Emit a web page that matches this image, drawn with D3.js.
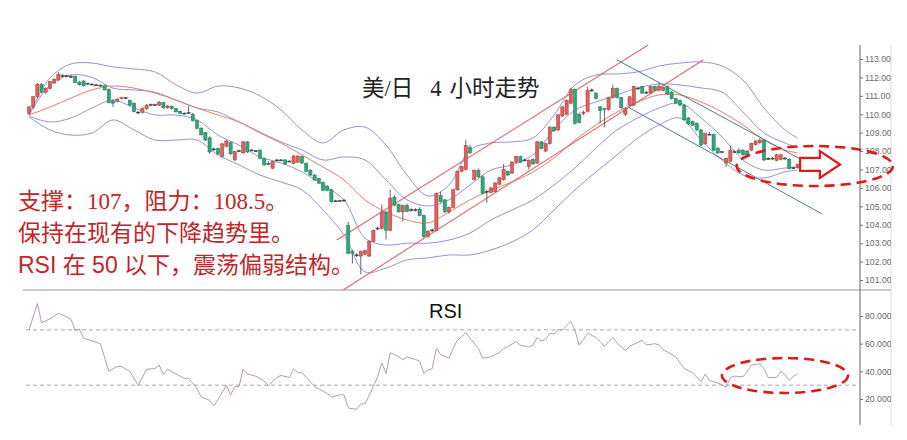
<!DOCTYPE html>
<html><head><meta charset="utf-8">
<script src="https://cdn.jsdelivr.net/npm/d3@7/dist/d3.min.js"></script>
<style>
html,body{margin:0;padding:0;background:#fff;}
svg{display:block;}
</style></head><body>
<svg id="chart" width="907" height="440"></svg>
<script>
// ---- Candles (USD/JPY 4H) ----
const opens = [
110.05,110.4,110.95,111.63,111.2,111.4,111.7,111.86,112.1,112.08,
112.05,112.05,111.75,111.8,111.66,111.64,111.6,111.58,111.55,111.35,
110.72,110.7,110.85,110.9,110.75,110.6,110.12,110.1,110.3,110.52,
110.52,110.5,110.63,110.35,110.42,110.3,110.15,110.05,110.08,110.0,
109.65,109.24,109.0,108.72,108.1,108.15,107.72,108.25,108.46,107.52,
108.0,107.9,108.5,108.06,108.0,108.05,107.6,107.34,107.07,107.5,
107.52,107.52,107.44,107.34,107.4,107.7,107.34,106.97,106.7,106.5,
106.3,106.1,105.9,105.3,105.3,105.33,103.95,102.55,102.35,102.3,
102.4,102.3,103.1,103.8,103.8,104.67,103.7,105.5,105.1,104.7,
105.05,104.8,104.82,104.85,104.5,103.35,103.7,103.7,105.6,105.35,
104.7,104.95,105.9,106.9,107.0,108.2,106.45,106.95,106.6,105.8,
105.75,105.8,106.2,106.45,106.9,106.8,107.4,107.7,107.52,107.15,
107.55,107.35,108.5,108.0,108.4,109.3,109.15,109.9,110.0,110.6,
111.35,110.0,110.05,110.15,111.28,111.15,110.4,110.3,110.25,110.9,
111.4,110.9,110.0,110.5,110.5,111.42,111.5,111.2,111.15,111.5,
111.3,111.3,111.5,111.2,110.85,110.75,110.5,109.8,109.6,109.5,
109.15,108.4,108.9,108.9,108.15,107.95,107.35,107.45,107.97,108.05,
108.05,108.0,108.05,108.35,108.45,108.6,107.6,107.6,107.5,107.55,
107.6,107.55,107.1,107.1];
const highs = [
110.45,111.0,111.7,111.7,111.45,111.8,111.95,112.3,112.2,112.15,
112.15,112.1,111.8,111.85,111.72,111.68,111.64,111.62,111.6,111.4,
110.8,110.88,110.95,110.95,110.8,110.65,110.16,110.36,110.55,110.58,
110.58,110.72,110.68,110.5,110.48,110.35,110.2,110.1,110.45,110.08,
109.7,109.3,109.05,108.8,108.2,108.2,108.45,108.6,108.52,108.0,
108.08,108.55,108.55,108.12,108.06,108.1,107.65,107.45,107.46,107.56,
107.58,107.56,107.5,107.78,107.78,107.75,107.38,107.0,106.75,106.55,
106.35,106.15,105.95,105.36,105.36,105.4,104.15,102.65,102.45,102.6,
102.65,103.15,103.75,103.9,105.1,104.75,105.9,105.6,105.15,105.1,
105.15,104.9,104.9,104.95,104.55,103.7,103.8,105.75,105.8,105.4,
105.0,105.95,106.95,107.2,108.6,108.35,107.0,107.05,106.7,105.9,
106.05,106.3,106.6,107.3,106.95,107.45,107.75,107.75,107.6,107.55,
107.6,108.55,108.55,108.45,109.35,109.35,110.0,110.45,110.8,111.45,
111.4,110.1,110.2,111.5,111.4,111.2,110.45,110.35,110.95,111.6,
111.45,110.95,110.35,111.0,111.55,111.5,111.55,111.28,111.55,111.55,
111.7,111.5,111.55,111.25,110.9,110.8,110.55,109.85,109.65,109.55,
109.2,109.0,109.05,108.95,108.2,108.0,107.65,108.3,108.05,108.15,
108.1,108.05,108.45,108.6,108.7,108.65,107.68,107.68,107.85,107.85,
107.68,107.6,107.15,107.32];
const lows = [
109.95,110.3,110.85,111.15,111.1,111.35,111.65,111.8,112.0,112.0,
111.98,111.7,111.55,111.5,111.62,111.58,111.55,111.52,111.3,110.6,
110.4,110.65,110.8,110.82,110.45,110.1,110.02,110.05,110.25,110.46,
110.46,110.45,110.3,110.3,110.25,110.1,110.0,110.0,110.02,109.6,
109.2,108.85,108.55,107.85,108.0,107.8,107.65,108.2,107.8,107.45,
107.95,107.85,107.9,108.0,107.95,107.55,107.2,107.25,107.02,107.46,
107.47,107.25,107.4,107.3,107.35,107.3,106.85,106.65,106.4,106.22,
105.82,105.82,105.2,105.24,105.24,105.26,102.4,101.9,102.25,101.3,
102.35,102.25,103.05,103.7,103.75,103.2,103.65,105.0,104.65,104.17,
104.68,104.7,104.72,104.45,103.3,103.3,103.6,103.65,105.2,104.65,
104.6,104.9,105.85,106.85,106.95,107.85,106.4,106.55,105.65,105.2,
105.7,105.75,106.15,106.4,106.65,106.75,107.35,107.35,107.45,107.0,
107.25,107.3,108.1,107.95,108.35,109.05,109.1,109.85,109.95,110.55,
109.45,109.5,109.95,110.1,111.2,110.8,109.5,109.3,110.2,110.85,
110.85,110.3,109.9,110.45,110.45,111.35,111.1,111.12,111.1,111.25,
111.25,111.25,111.05,110.8,110.55,110.45,109.65,109.42,109.35,109.1,
108.28,108.35,108.85,108.0,107.85,107.9,107.15,107.4,107.9,107.85,
107.75,107.75,108.0,108.3,108.4,107.45,107.52,107.52,107.45,107.5,
107.55,107.0,107.02,107.05];
const closes = [
110.4,110.95,111.63,111.2,111.4,111.77,111.9,112.17,112.08,112.1,
112.02,111.73,111.6,111.55,111.68,111.63,111.6,111.57,111.32,110.62,
110.6,110.82,110.9,110.88,110.5,110.14,110.1,110.33,110.5,110.54,
110.5,110.64,110.35,110.45,110.3,110.13,110.05,110.06,110.1,109.65,
109.24,108.88,108.6,107.95,108.12,107.84,108.39,108.55,107.85,107.97,
108.02,108.5,107.95,108.06,108.02,107.6,107.25,107.34,107.43,107.52,
107.5,107.3,107.46,107.73,107.73,107.35,106.9,106.7,106.43,106.26,
105.87,105.87,105.25,105.3,105.32,105.34,102.45,102.45,102.37,102.55,
102.6,103.1,103.7,103.82,104.7,103.7,105.45,105.07,104.7,105.05,
104.72,104.82,104.8,104.5,103.35,103.65,103.72,105.7,105.25,104.7,
104.95,105.9,106.9,107.15,108.3,107.9,106.95,106.6,105.7,105.82,
106.0,106.27,106.55,107.0,106.7,107.4,107.7,107.4,107.52,107.5,
107.3,108.5,108.15,108.4,109.3,109.1,109.97,110.4,110.75,111.35,
109.5,109.55,110.1,111.3,111.32,110.85,110.2,110.25,110.9,111.4,
110.9,110.35,110.3,110.95,111.5,111.4,111.15,111.2,111.5,111.3,
111.5,111.45,111.1,110.85,110.6,110.5,109.7,109.47,109.4,109.15,
108.33,108.95,108.92,108.05,107.9,107.97,107.6,108.05,107.97,107.9,
107.8,107.8,108.42,108.55,108.6,107.52,107.6,107.62,107.8,107.8,
107.62,107.05,107.1,107.28];

// ---- Bollinger bands read at sample candles ----
const bandIdx = [0,5,10,15,20,25,30,35,40,45,50,55,60,65,70,75,80,85,90,95,100,105,110,115,120,125,130,135,140,145,150,155,160,165,170,175,180,183];
const bandUpperOuter = [109.96,111.97,112.73,112.78,112.57,112.46,112.3,111.6,111.15,111.53,111.43,111.0,110.23,109.15,108.44,109.15,109.3,108.33,106.7,105.56,106.16,108.06,108.44,108.5,108.71,109.96,111.59,112.13,112.19,112.3,112.62,112.78,112.84,112.62,111.86,110.34,109.15,108.71];
const bandUpperInner = [109.96,111.59,112.13,112.0,111.42,111.32,111.2,110.77,110.34,110.12,109.58,109.04,108.49,108.06,107.52,107.68,107.52,106.43,105.35,105.02,105.35,106.16,106.97,107.25,107.79,109.15,110.23,110.67,111.05,111.43,111.64,111.59,111.43,111.2,110.12,108.98,108.44,108.17];
const bandMiddle = [109.96,110.39,110.88,111.32,111.53,111.42,111.15,110.77,110.34,109.96,109.58,108.98,108.44,107.79,107.14,106.43,105.35,104.69,104.26,104.1,104.69,105.35,105.89,106.32,106.87,107.63,108.6,109.42,110.12,110.67,111.05,111.05,110.67,110.12,109.42,108.6,108.06,107.9];
const bandLowerInner = [109.9,109.58,109.8,110.34,110.77,110.34,109.96,109.96,109.69,108.87,108.33,107.68,107.35,106.87,106.16,105.35,103.28,102.9,103.0,103.0,103.17,103.55,104.26,104.8,105.35,106.16,107.08,108.17,109.15,109.8,110.34,110.61,109.8,108.77,107.52,106.97,107.08,107.14];
const bandLowerOuter = [109.85,109.15,108.87,108.98,109.69,109.15,108.6,108.6,108.6,107.79,107.25,106.7,106.32,105.89,104.8,103.45,101.44,101.65,102.09,102.2,102.36,102.36,102.63,103.07,103.72,104.8,105.89,106.87,107.79,108.71,109.42,109.8,108.6,107.52,106.7,106.54,106.87,106.97];

// ---- RSI read at sample candles ----
const rsiIdx = [0,2,3,5,7,9,10,11,12,13,15,17,19,21,22,24,26,28,30,31,32,33,35,37,38,40,41,43,44,45,47,48,49,50,51,52,54,56,57,59,60,62,63,64,65,66,68,71,72,74,75,76,78,79,80,82,83,84,85,86,88,89,90,92,93,94,95,96,97,98,100,101,102,103,104,105,107,108,110,112,113,114,116,117,119,120,121,122,123,124,125,126,127,128,129,130,131,132,133,135,136,137,138,139,140,142,143,146,147,149,150,151,152,154,156,158,160,161,162,164,165,166,167,168,170,171,172,174,175,176,178,179,180,181,182,183];
const rsiVal = [70,89,75,78,82,79.5,77.5,69.5,70.5,64,62,60,40,43.5,43.5,40,30,41.5,42,44.5,37.5,41.5,38,35,35,27.5,21.5,19,15,19.5,30,23,29,29,41.5,38,36.5,33,29.5,35.5,37,35.5,42,39,39,35.5,29,24,21.5,23,23,13.5,12.5,16.5,16.5,29,36,46,38.5,53.5,50.5,48.5,50.5,48.5,47.5,38.5,41,42,56.5,52,49.5,56.5,62.5,65,68,64,56.5,49.5,50.5,53.5,56.5,58,61.5,59,57.5,59,64.5,62,63,67.5,67,70.5,69.5,73,76,69.5,59,63,67.5,64.5,61.5,58,61.5,64.5,60.5,55,58,62.5,59,60,59,55.5,54,50.5,42,39,32.5,38,33.5,31.5,30.5,28.5,35.5,36.5,36,40,44.5,45.5,42,35.5,35.5,40,37.5,33.5,36.5,38];

// ---- Trend lines [candle index, price] ----
const riseChannel = [[[73.3,103.17],[147.4,113.76]],[[74.8,100.46],[160.5,112.95]]];
const fallChannel = [[[140,112.95],[187.6,107.08]],[[142.6,110.39],[188.8,104.59]]];

// ---- Annotation shapes in data units ----
const priceEllipse = {i:187.1, p:107.19, ri:18.6, rp:1.086};
const rsiEllipse = {i:180, v:37, ri:15, rv:12.65};
const arrowPts = [[183.6,107.63],[188.3,107.63],[188.3,108.0],[193.1,107.27],[188.3,106.54],[188.3,106.92],[183.6,106.92]];

// ---- Axes / text ----
const priceTicks = [101,102,103,104,105,106,107,108,109,110,111,112,113];
const rsiTicks = [20,40,60,80];
const rsiLevels = [30,70];
const titleParts = ["美/日", "4", "小时走势"];
const noteLines = ["支撑：107，阻力：108.5。","保持在现有的下降趋势里。","RSI 在 50 以下，震荡偏弱结构。"];

const svg = d3.select("#chart");
const x = d3.scaleLinear().domain([0,183]).range([29,797.6]);
const y = d3.scaleLinear().domain([101,113]).range([280,59]);
const yr = d3.scaleLinear().domain([20,80]).range([399,316]);

const defs = svg.append("defs");
// clip region in the axis group's local space (axis group sits at x=860; frame at 891)
defs.append("clipPath").attr("id","axclip").append("rect").attr("x",-10).attr("y",0).attr("width",41).attr("height",440);

// frame
svg.append("line").attr("x1",23).attr("x2",891).attr("y1",290).attr("y2",290).attr("stroke","#9a9a9a").attr("stroke-width",1.2);
svg.append("line").attr("x1",891).attr("x2",891).attr("y1",45).attr("y2",425).attr("stroke","#dcdcdc");

// axis
const gAx = svg.append("g").attr("transform","translate(860,0)");
const gAxIn = gAx.append("g").attr("clip-path","url(#axclip)");
const axP = d3.axisRight(y).tickValues(priceTicks).tickFormat(d3.format(".2f")).tickSize(3).tickPadding(2);
gAxIn.append("g").call(axP);
const axR = d3.axisRight(yr).tickValues(rsiTicks).tickFormat(d3.format(".4f")).tickSize(3).tickPadding(2);
gAxIn.append("g").call(axR);
gAxIn.selectAll(".domain").remove();
gAxIn.selectAll("line").attr("stroke","#777");
gAxIn.selectAll("text").attr("fill","#6a6a6a").style("font-family","Arial, 'Liberation Sans', sans-serif").style("font-size","8.7px");
svg.append("line").attr("x1",860).attr("x2",860).attr("y1",45).attr("y2",425).attr("stroke","#666");

// Bollinger bands
const bandLine = d3.line().x((d,k)=>x(bandIdx[k])).y(d=>y(d)).curve(d3.curveCatmullRom.alpha(0.5));
[[bandUpperOuter,"#9393d8"],[bandUpperInner,"#9393d8"],[bandLowerInner,"#9393d8"],[bandLowerOuter,"#9393d8"],[bandMiddle,"#e47d6c"]].forEach(([arr,c])=>{
  svg.append("path").attr("d",bandLine(arr)).attr("fill","none").attr("stroke",c).attr("stroke-width",1);
});

// Trend lines
const seg = d3.line().x(d=>x(d[0])).y(d=>y(d[1]));
riseChannel.forEach(l=>svg.append("path").attr("d",seg(l)).attr("stroke","#e06a6a").attr("stroke-width",1.1).attr("fill","none"));
fallChannel.forEach(l=>svg.append("path").attr("d",seg(l)).attr("stroke","#4f7c8a").attr("stroke-width",1).attr("fill","none"));

// Candles
const idx = d3.range(opens.length);
const bw = 3.2;
const gC = svg.append("g");
gC.selectAll("line.wick").data(idx).join("line")
  .attr("x1",i=>x(i)).attr("x2",i=>x(i)).attr("y1",i=>y(highs[i])).attr("y2",i=>y(lows[i]))
  .attr("stroke","#555").attr("stroke-width",0.9);
gC.selectAll("rect.body").data(idx).join("rect")
  .attr("x",i=>x(i)-bw/2).attr("width",bw)
  .attr("y",i=>y(Math.max(opens[i],closes[i])))
  .attr("height",i=>Math.max(1,Math.abs(y(opens[i])-y(closes[i]))))
  .attr("fill",i=>{const d=closes[i]-opens[i]; if(Math.abs(d)<0.04) return "#444"; return d>0?"#e0605e":"#2fa77a";})
  .attr("stroke",i=>{const d=closes[i]-opens[i]; if(Math.abs(d)<0.04) return "#444"; return d>0?"#a83a3a":"#1d7a55";})
  .attr("stroke-width",0.5);

// RSI
rsiLevels.forEach(v=>svg.append("line").attr("x1",26).attr("x2",860).attr("y1",yr(v)).attr("y2",yr(v))
  .attr("stroke","#a8a8a8").attr("stroke-dasharray","4,3").attr("stroke-width",1));
const rsiLine = d3.line().x((d,k)=>x(rsiIdx[k])).y(d=>yr(d));
svg.append("path").attr("d",rsiLine(rsiVal)).attr("fill","none").attr("stroke","#b89ab8").attr("stroke-width",1);

// Annotations
const red = "#e0191b";
svg.append("ellipse").attr("cx",x(priceEllipse.i)).attr("cy",y(priceEllipse.p))
  .attr("rx",x(priceEllipse.ri)-x(0)).attr("ry",y(0)-y(priceEllipse.rp))
  .attr("fill","none").attr("stroke",red).attr("stroke-width",2.6).attr("stroke-dasharray","10,6");
svg.append("ellipse").attr("cx",x(rsiEllipse.i)).attr("cy",yr(rsiEllipse.v))
  .attr("rx",x(rsiEllipse.ri)-x(0)).attr("ry",yr(0)-yr(rsiEllipse.rv))
  .attr("fill","none").attr("stroke",red).attr("stroke-width",2.6).attr("stroke-dasharray","10,6");
svg.append("path").attr("d",d3.line().x(d=>x(d[0])).y(d=>y(d[1]))(arrowPts)+"Z")
  .attr("fill","#fff").attr("stroke",red).attr("stroke-width",2.2).attr("stroke-linejoin","miter");

// Title
const tt = svg.append("text").attr("x",362).attr("y",96)
  .style("font-family","'Liberation Serif','Noto Sans CJK SC',serif").style("font-size","22.5px").attr("fill","#222");
tt.append("tspan").text(titleParts[0]);
tt.append("tspan").attr("dx",17).text(titleParts[1]);
tt.append("tspan").attr("dx",8).text(titleParts[2]);

// RSI label
svg.append("text").attr("x",429).attr("y",318).style("font-family","Arial,'Liberation Sans',sans-serif")
  .style("font-size","20px").attr("fill","#111").text("RSI");

// Notes
const noteFonts = ["'Liberation Serif','Noto Sans CJK SC',serif","'Liberation Serif','Noto Sans CJK SC',serif","Arial,'Liberation Sans','Noto Sans CJK SC',sans-serif"];
noteLines.forEach((t,k)=>{
  svg.append("text").attr("x",18).attr("y",209+k*32).style("font-family",noteFonts[k])
    .style("font-size","23px").attr("fill","#c0262a").style("white-space","pre").text(t);
});
</script>
</body></html>
